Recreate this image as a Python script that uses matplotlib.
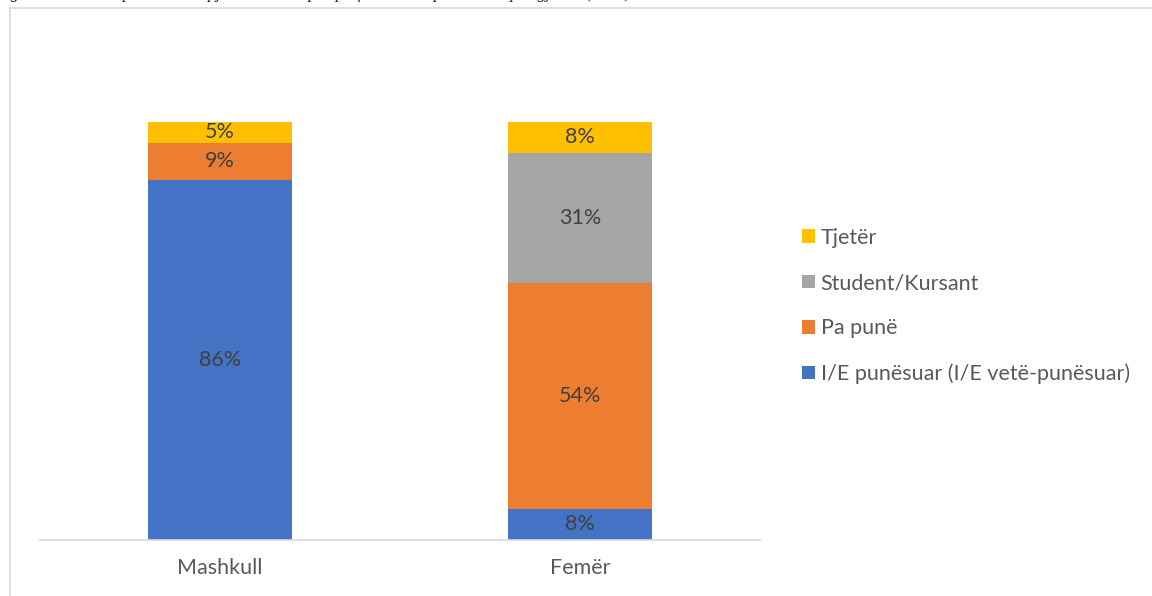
import matplotlib.pyplot as plt
from matplotlib.patches import Rectangle

# Data
categories = ['Mashkull', 'Femër']
series_names = ['I/E punësuar (I/E vetë-punësuar)', 'Pa punë', 'Student/Kursant', 'Tjetër']
series_values = [
    [86, 7.5],   # I/E punësuar
    [9, 54],     # Pa punë
    [0, 31],     # Student/Kursant
    [5, 7.5],    # Tjetër
]
series_colors = ['#4472C4', '#ED7D31', '#A5A5A5', '#FFC000']
caption = 'Figura 6: Statusi i punësimit të pjesëmarrësve pas përfundimit të praktikës sipas gjinisë (2021)'

plt.rcParams['font.family'] = ['Lato', 'DejaVu Sans']
text_color = '#404040'
fs = 15.5

fig = plt.figure(figsize=(11.52, 5.96), dpi=100)
ax = fig.add_axes([40 / 1152, 56 / 596, 720 / 1152, 502 / 596])

x = list(range(len(categories)))
bottoms = [0] * len(categories)
handles = []
for name, vals, col in zip(series_names, series_values, series_colors):
    bars = ax.bar(x, vals, width=0.4, bottom=bottoms, color=col, label=name)
    handles.append(bars)
    for xi, v, b in zip(x, vals, bottoms):
        if v > 0:
            ax.text(xi, b + v / 2, f'{v:.0f}%', ha='center', va='center',
                    fontsize=fs, color=text_color)
    bottoms = [b + v for b, v in zip(bottoms, vals)]

ax.set_xlim(-0.5, 1.5)
ax.set_ylim(0, 120)
ax.set_xticks(x)
ax.set_xticklabels(categories, fontsize=fs, color='#595959')
ax.tick_params(axis='x', length=0, pad=13)
ax.set_yticks([])
for s in ['top', 'left', 'right']:
    ax.spines[s].set_visible(False)
ax.spines['bottom'].set_color('#D9D9D9')
ax.spines['bottom'].set_linewidth(1.2)

# legend (reverse order, like Excel)
leg = fig.legend(handles[::-1], series_names[::-1], loc='center left',
                 bbox_to_anchor=(783 / 1152, 1 - 306 / 596), frameon=False,
                 fontsize=fs, labelspacing=1.17, handlelength=0.6,
                 handleheight=0.6, handletextpad=0.25)
for t in leg.get_texts():
    t.set_color('#595959')

# chart area border
fig.patches.append(Rectangle((10 / 1152, -0.01), 1.01, 1 - 8 / 596 + 0.01,
                             transform=fig.transFigure, fill=False,
                             edgecolor='#D9D9D9', linewidth=1.2))

# clipped caption above the chart
fig.text(-0.003, 1 + 1.5 / 596, caption, ha='left', va='baseline', fontsize=12,
         family='Liberation Serif', style='italic', color='#222222')

fig.savefig('out.png', dpi=100)
